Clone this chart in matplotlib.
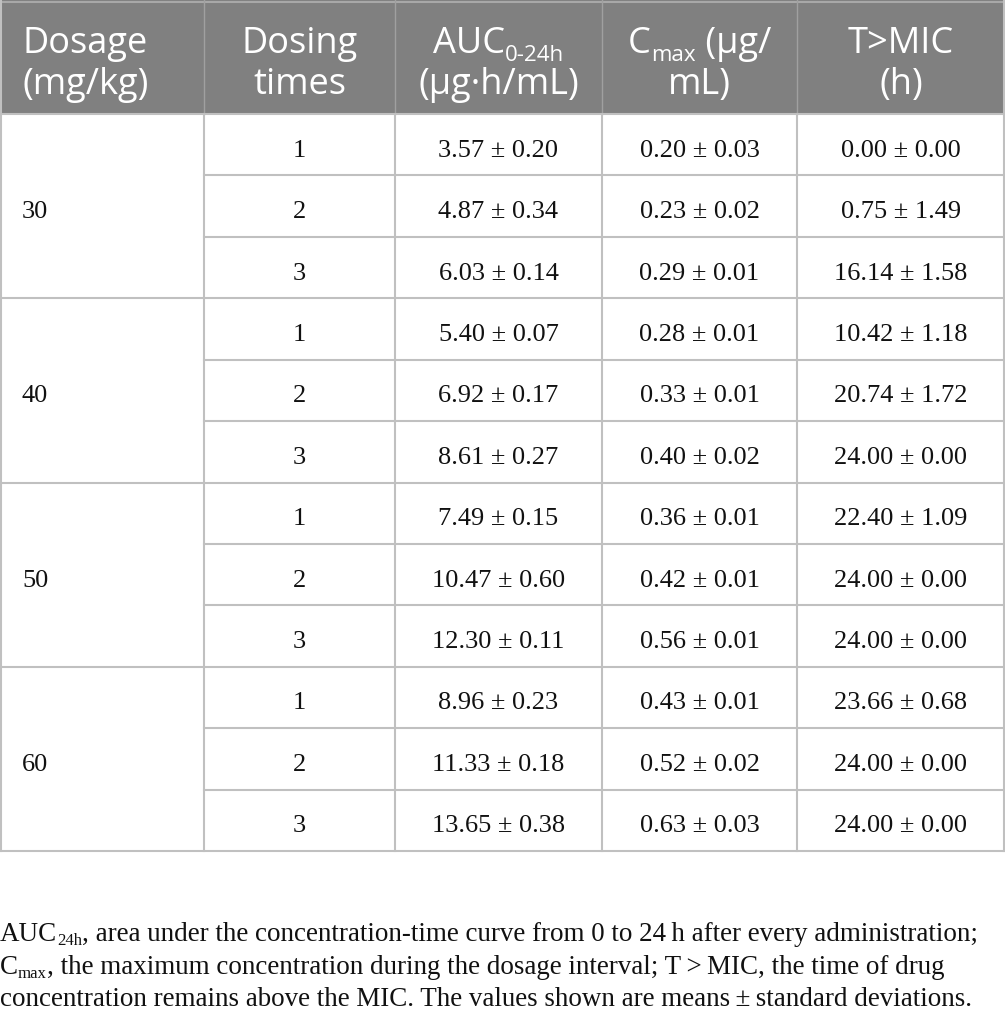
import matplotlib
matplotlib.use('Agg')
import matplotlib.pyplot as plt
from matplotlib.patches import Rectangle

# ---------------- data ----------------
dosages = ['30', '40', '50', '60']
dosing_times = ['1', '2', '3']
auc = ['3.57 ± 0.20', '4.87 ± 0.34', '6.03 ± 0.14',
       '5.40 ± 0.07', '6.92 ± 0.17', '8.61 ± 0.27',
       '7.49 ± 0.15', '10.47 ± 0.60', '12.30 ± 0.11',
       '8.96 ± 0.23', '11.33 ± 0.18', '13.65 ± 0.38']
cmax = ['0.20 ± 0.03', '0.23 ± 0.02', '0.29 ± 0.01',
        '0.28 ± 0.01', '0.33 ± 0.01', '0.40 ± 0.02',
        '0.36 ± 0.01', '0.42 ± 0.01', '0.56 ± 0.01',
        '0.43 ± 0.01', '0.52 ± 0.02', '0.63 ± 0.03']
tmic = ['0.00 ± 0.00', '0.75 ± 1.49', '16.14 ± 1.58',
        '10.42 ± 1.18', '20.74 ± 1.72', '24.00 ± 0.00',
        '22.40 ± 1.09', '24.00 ± 0.00', '24.00 ± 0.00',
        '23.66 ± 0.68', '24.00 ± 0.00', '24.00 ± 0.00']
footnote_lines = [
    [('AUC', False), ('24h', True), (', area under the concentration-time curve from 0 to 24\u2009h after every administration;', False)],
    [('C', False), ('max', True), (', the maximum concentration during the dosage interval; T\u2009>\u2009MIC, the time of drug', False)],
    [('concentration remains above the MIC. The values shown are means\u2009±\u2009standard deviations.', False)],
]

# ---------------- layout ----------------
W, H = 1005, 1028
fig = plt.figure(figsize=(W / 100, H / 100), dpi=100)
ax = fig.add_axes([0, 0, 1, 1])
ax.set_xlim(0, W)
ax.set_ylim(H, 0)
ax.axis('off')
renderer = fig.canvas.get_renderer()

col_edges = [0, 204, 395, 602, 797, 1005]
header_h = 114
table_bottom = 851
n_rows = len(dosages) * len(dosing_times)
row_h = (table_bottom - header_h) / n_rows

HEAD_FONT = 'Open Sans'
BODY_FONT = 'Liberation Serif'
head_size = 26
body_size = 19
grid_c = '#c0c0c0'
head_bg = '#808080'
text_c = '#111111'


def measure(t, size, family):
    tt = ax.text(0, 0, t, fontsize=size, family=family)
    w = tt.get_window_extent(renderer).width
    tt.remove()
    return w


def rich(x, y, pieces, size, family, color, ha='center', sub_scale=0.62, sub_dy=0.22):
    widths = []
    for t, sub in pieces:
        s = size * sub_scale if sub else size
        widths.append(measure(t, s, family))
    total = sum(widths)
    x0 = x - total / 2 if ha == 'center' else x
    for (t, sub), w in zip(pieces, widths):
        s = size * sub_scale if sub else size
        dy = size * sub_dy * 100 / 72 if sub else 0
        ax.text(x0, y + dy, t, fontsize=s, family=family, color=color,
                ha='left', va='baseline')
        x0 += w


# header background
ax.add_patch(Rectangle((0, 0), W, header_h, facecolor=head_bg, edgecolor='none'))

# header texts
b1, b2 = 53, 94
hx = [(col_edges[i] + col_edges[i + 1]) / 2 for i in range(5)]
ax.text(22, b1, 'Dosage', fontsize=head_size, family=HEAD_FONT, color='white', va='baseline', ha='left')
ax.text(22, b2, '(mg/kg)', fontsize=head_size, family=HEAD_FONT, color='white', va='baseline', ha='left')
rich(hx[1], b1, [('Dosing', False)], head_size, HEAD_FONT, 'white')
rich(hx[1], b2, [('times', False)], head_size, HEAD_FONT, 'white')
rich(hx[2], b1, [('AUC', False), ('0-24h', True)], head_size, HEAD_FONT, 'white')
rich(hx[2], b2, [('(µg·h/mL)', False)], head_size, HEAD_FONT, 'white')
rich(hx[3], b1, [('C', False), ('max', True), (' (µg/', False)], head_size, HEAD_FONT, 'white')
rich(hx[3], b2, [('mL)', False)], head_size, HEAD_FONT, 'white')
rich(hx[4], b1, [('T>MIC', False)], head_size, HEAD_FONT, 'white')
rich(hx[4], b2, [('(h)', False)], head_size, HEAD_FONT, 'white')

# body
for g, d in enumerate(dosages):
    top = header_h + g * len(dosing_times) * row_h
    gc = top + len(dosing_times) * row_h / 2
    ax.text(22, gc + 12, d, fontsize=body_size, family=BODY_FONT, color=text_c,
            ha='left', va='baseline')
    for k, t in enumerate(dosing_times):
        r = g * len(dosing_times) + k
        cy = header_h + (r + 0.5) * row_h + 12
        for ci, val in zip(range(1, 5), [t, auc[r], cmax[r], tmic[r]]):
            ax.text(hx[ci], cy, val, fontsize=body_size, family=BODY_FONT, color=text_c,
                    ha='center', va='baseline')

# grid lines
lw = 1.5
ax.plot([0, W], [1.5, 1.5], color='#a8a8a8', lw=lw)
for x in col_edges[1:-1]:
    ax.plot([x, x], [0, header_h], color='#a0a0a0', lw=1.0)
    ax.plot([x, x], [header_h, table_bottom], color=grid_c, lw=lw)
ax.plot([0.75, 0.75], [0, table_bottom], color=grid_c, lw=lw)
ax.plot([W - 0.75, W - 0.75], [0, table_bottom], color=grid_c, lw=lw)
for r in range(n_rows + 1):
    y = header_h + r * row_h
    x_start = 0 if r % len(dosing_times) == 0 else col_edges[1]
    ax.plot([x_start, W], [y, y], color=grid_c, lw=lw)

# footnote (fit to measured width of first line)
foot_family = BODY_FONT
target_w = 980
w10 = sum(measure(t, 10 * (0.62 if s else 1), foot_family) for t, s in footnote_lines[0])
foot_size = 10 * target_w / w10
for i, line in enumerate(footnote_lines):
    rich(0, 941 + i * 32.5, line, foot_size, foot_family, text_c, ha='left',
         sub_scale=0.62, sub_dy=0.15)

fig.savefig('out.png', dpi=100)
